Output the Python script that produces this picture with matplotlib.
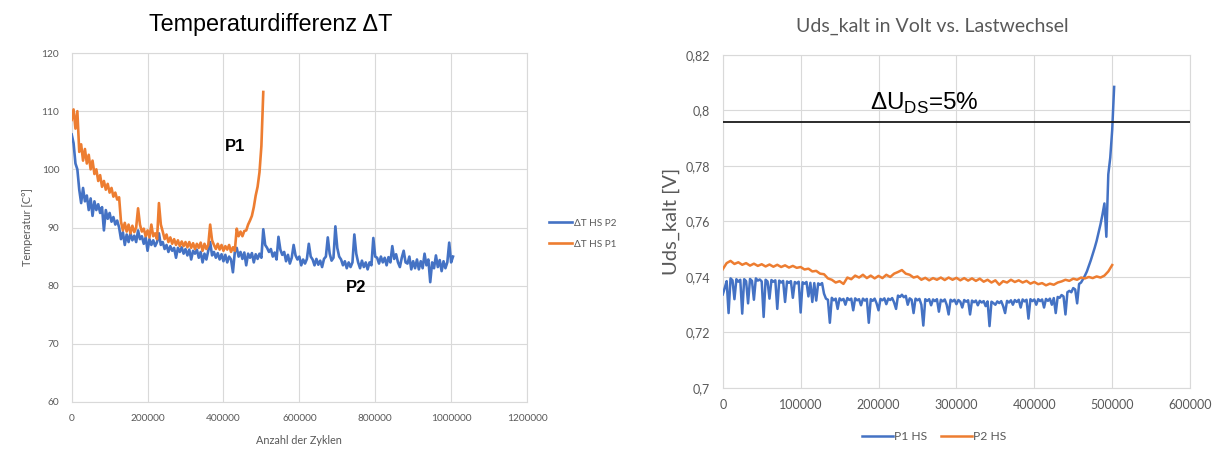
import numpy as np
import matplotlib
matplotlib.use("Agg")
import matplotlib.pyplot as plt
from matplotlib import ticker

plt.rcParams['mathtext.fontset'] = 'custom'
plt.rcParams['mathtext.rm'] = 'Liberation Sans'

# ---------------- data: left chart (Temperaturdifferenz) ----------------
left_step = 5000  # cycles between samples
dT_P2 = [
    106.0, 104.5, 101.0, 100.0, 96.5, 94.2, 96.8, 94.5, 95.5, 93.0,
    95.0, 92.0, 94.5, 93.0, 94.0, 92.5, 93.5, 89.5, 93.0, 91.5,
    92.5, 91.0, 91.8, 90.5, 91.2, 90.0, 88.0, 89.2, 87.0, 88.8,
    87.5, 89.0, 87.8, 88.6, 87.5, 89.5, 88.0, 88.5, 87.2, 88.3,
    86.0, 88.0, 87.0, 87.8, 86.8, 87.5, 89.0, 87.0, 87.5, 86.3,
    87.0, 85.8, 86.8, 86.0, 86.5, 84.8, 86.5, 85.8, 86.6, 85.5,
    86.3, 85.2, 86.2, 84.5, 86.0, 85.5, 86.2, 84.8, 85.8, 84.0,
    85.5, 84.5, 86.0, 87.5, 85.2, 85.8, 84.8, 85.6, 84.5, 85.4,
    84.2, 85.3, 84.0, 85.0, 84.5, 82.3, 85.8, 86.5, 85.0, 85.8,
    84.6, 85.7, 83.5, 85.5, 84.8, 85.6, 84.0, 85.4, 84.6, 85.5,
    84.8, 89.7, 87.0, 86.5, 85.8, 86.3, 85.0, 85.7, 84.5, 88.4,
    86.2, 85.3, 85.8, 84.2, 85.3, 83.8, 84.8, 87.0, 85.2, 84.5,
    85.0, 83.5, 84.5, 83.8, 84.6, 87.2, 85.0, 84.5, 83.5, 84.6,
    83.6, 84.3, 83.2, 84.6, 85.0, 88.3, 85.5, 84.3, 84.8, 90.2,
    86.5, 85.0, 84.5, 83.5, 84.2, 83.0, 84.0, 83.2, 84.0, 88.8,
    85.5, 84.0, 83.0, 84.3, 83.2, 84.0, 82.8, 84.0, 83.5, 88.2,
    85.0, 84.8, 83.8, 85.0, 84.0, 84.8, 83.5, 84.9, 84.0, 86.8,
    84.6, 85.4, 84.0, 83.2, 84.8, 86.0, 84.0, 83.8, 85.0, 82.8,
    84.2, 83.0, 84.5, 82.8, 84.2, 83.0, 85.5, 83.5, 84.5, 80.6,
    84.0, 83.0, 85.2, 83.2, 84.4, 82.5, 84.2, 83.0, 84.0, 87.4,
    84.0, 85.0,
]
dT_P1 = [
    108.5, 110.3, 107.0, 110.0, 103.0, 104.3, 101.5, 103.5, 101.0, 102.5,
    100.0, 101.5, 99.2, 100.0, 98.0, 99.0, 97.0, 98.0, 96.5, 97.5,
    96.0, 96.8, 95.3, 96.0, 94.8, 95.2, 91.0, 89.5, 90.8, 89.3,
    90.5, 89.0, 90.3, 89.2, 90.0, 93.3, 90.5, 89.3, 89.8, 88.5,
    89.5, 88.3, 90.5, 88.5, 89.0, 88.0, 94.2, 90.5, 89.3, 88.0,
    88.8, 87.5, 88.3, 87.2, 88.0, 87.0, 87.8, 86.8, 87.6, 86.8,
    87.5, 86.6, 87.5, 86.5, 87.3, 86.3, 87.2, 86.5, 87.4, 86.0,
    87.2, 86.3, 87.0, 90.5, 87.8, 87.0, 86.3, 87.2, 86.2, 87.0,
    86.0, 86.8, 86.2, 87.0, 85.8, 86.6, 86.0, 89.8, 88.5, 89.3,
    88.5, 89.4, 89.5, 90.5, 91.2, 92.0, 93.5, 95.5, 97.0, 99.5,
    104.0, 113.3,
]
left_xticks = [0, 200000, 400000, 600000, 800000, 1000000, 1200000]
left_yticks = [60, 70, 80, 90, 100, 110, 120]

# ---------------- data: right chart (Uds_kalt) ----------------
right_step_p1 = 2500
uds_P1 = [
    0.7337, 0.7360, 0.7385, 0.7270, 0.7395, 0.7388, 0.7320, 0.7392, 0.7383, 0.7390,
    0.7268, 0.7392, 0.7385, 0.7305, 0.7393, 0.7386, 0.7318, 0.7395, 0.7387, 0.7391,
    0.7384, 0.7256, 0.7390, 0.7384, 0.7322, 0.7389, 0.7383, 0.7388, 0.7285, 0.7387,
    0.7380, 0.7386, 0.7310, 0.7384, 0.7379, 0.7385, 0.7325, 0.7382, 0.7377, 0.7383,
    0.7272, 0.7381, 0.7376, 0.7382, 0.7330, 0.7379, 0.7310, 0.7378, 0.7315, 0.7377,
    0.7372, 0.7378, 0.7340, 0.7322, 0.7318, 0.7235, 0.7325, 0.7316, 0.7322, 0.7285,
    0.7323, 0.7316, 0.7321, 0.7300, 0.7324, 0.7317, 0.7322, 0.7280, 0.7323, 0.7316,
    0.7320, 0.7298, 0.7322, 0.7315, 0.7321, 0.7235, 0.7320, 0.7314, 0.7322, 0.7305,
    0.7280, 0.7321, 0.7316, 0.7323, 0.7302, 0.7322, 0.7317, 0.7324, 0.7308, 0.7285,
    0.7333, 0.7328, 0.7336, 0.7327, 0.7332, 0.7300, 0.7323, 0.7318, 0.7270, 0.7322,
    0.7316, 0.7321, 0.7300, 0.7225, 0.7320, 0.7314, 0.7320, 0.7298, 0.7319, 0.7313,
    0.7320, 0.7275, 0.7318, 0.7312, 0.7319, 0.7300, 0.7265, 0.7318, 0.7312, 0.7318,
    0.7302, 0.7317, 0.7311, 0.7290, 0.7317, 0.7311, 0.7316, 0.7265, 0.7315, 0.7309,
    0.7315, 0.7298, 0.7314, 0.7308, 0.7313, 0.7295, 0.7312, 0.7223, 0.7311, 0.7306,
    0.7300, 0.7312, 0.7306, 0.7313, 0.7295, 0.7270, 0.7314, 0.7308, 0.7316, 0.7300,
    0.7317, 0.7310, 0.7318, 0.7290, 0.7319, 0.7312, 0.7318, 0.7250, 0.7320, 0.7313,
    0.7319, 0.7300, 0.7320, 0.7313, 0.7319, 0.7290, 0.7321, 0.7314, 0.7322, 0.7300,
    0.7324, 0.7270, 0.7328, 0.7325, 0.7335, 0.7330, 0.7265, 0.7345, 0.7350, 0.7345,
    0.7360, 0.7355, 0.7305, 0.7375, 0.7380, 0.7392, 0.7405, 0.7420, 0.7440, 0.7460,
    0.7482, 0.7505, 0.7530, 0.7560, 0.7590, 0.7625, 0.7665, 0.7545, 0.7770, 0.7830,
    0.7930, 0.8085,
]
right_step_p2 = 5000
uds_P2 = [
    0.7428, 0.7450, 0.7458, 0.7447, 0.7453, 0.7444, 0.7450, 0.7441, 0.7448, 0.7440,
    0.7446, 0.7438, 0.7445, 0.7437, 0.7444, 0.7436, 0.7442, 0.7434, 0.7440, 0.7433,
    0.7436, 0.7427, 0.7430, 0.7420, 0.7422, 0.7412, 0.7410, 0.7395, 0.7390, 0.7380,
    0.7385, 0.7375, 0.7398, 0.7392, 0.7405, 0.7398, 0.7408, 0.7396, 0.7405, 0.7395,
    0.7404, 0.7396, 0.7408, 0.7400, 0.7412, 0.7418, 0.7425, 0.7412, 0.7408, 0.7398,
    0.7402, 0.7390, 0.7397, 0.7388, 0.7396, 0.7390, 0.7398, 0.7389, 0.7398, 0.7390,
    0.7397, 0.7388, 0.7396, 0.7387, 0.7395, 0.7386, 0.7394, 0.7383, 0.7390, 0.7380,
    0.7388, 0.7372, 0.7385, 0.7380, 0.7390, 0.7382, 0.7388, 0.7380, 0.7386, 0.7376,
    0.7382, 0.7374, 0.7378, 0.7370, 0.7376, 0.7372, 0.7380, 0.7384, 0.7390, 0.7386,
    0.7394, 0.7390, 0.7398, 0.7395, 0.7400, 0.7396, 0.7402, 0.7398, 0.7405, 0.7420,
    0.7443,
]
threshold_uds = 0.796
right_xticks = [0, 100000, 200000, 300000, 400000, 500000, 600000]
right_yticks = [0.70, 0.72, 0.74, 0.76, 0.78, 0.80, 0.82]
right_yticklabels = ['0,7', '0,72', '0,74', '0,76', '0,78', '0,8', '0,82']

BLUE = '#4472C4'
ORANGE = '#ED7D31'
GRID = '#D9D9D9'
TXT = '#595959'
XL_FONT = ['Lato', 'DejaVu Sans']
AR_FONT = ['Liberation Sans', 'DejaVu Sans']

fig = plt.figure(figsize=(12.25, 4.59), dpi=100)

# ---------------- left chart ----------------
axL = fig.add_axes([0.0585, 0.1242, 0.3717, 0.7603])
xL2 = np.arange(len(dT_P2)) * left_step
xL1 = np.arange(len(dT_P1)) * left_step
axL.plot(xL2, dT_P2, color=BLUE, lw=1.9, label='ΔT HS P2', zorder=3)
axL.plot(xL1, dT_P1, color=ORANGE, lw=1.9, label='ΔT HS P1', zorder=4)
axL.set_xlim(0, 1200000)
axL.set_ylim(60, 120)
axL.set_xticks(left_xticks)
axL.set_yticks(left_yticks)
axL.xaxis.set_major_formatter(ticker.FuncFormatter(lambda v, p: f'{int(round(v))}'))
axL.grid(True, color=GRID, lw=0.8)
axL.set_axisbelow(True)
for s in axL.spines.values():
    s.set_color(GRID)
    s.set_linewidth(0.8)
axL.tick_params(length=0, labelsize=7.3, labelcolor=TXT)
axL.tick_params(axis='x', pad=9)
axL.tick_params(axis='y', pad=9)
for lab in axL.get_xticklabels() + axL.get_yticklabels():
    lab.set_family(XL_FONT)
axL.set_xlabel('Anzahl der Zyklen', fontsize=7.8, color=TXT, family=XL_FONT, labelpad=8)
axL.set_ylabel('Temperatur [C°]', fontsize=7.8, color=TXT, family=XL_FONT, labelpad=6)
axL.text(430000, 104, 'P1', fontsize=12, fontweight='bold', family=AR_FONT,
         ha='center', va='center', zorder=5)
axL.text(749000, 79.6, 'P2', fontsize=12, fontweight='bold', family=AR_FONT,
         ha='center', va='center', zorder=5)
fig.text(271 / 1225, 1 - 25 / 459, 'Temperaturdifferenz ΔT', fontsize=16.8,
         family=AR_FONT, ha='center', va='center')
legL = axL.legend(loc='center left', bbox_to_anchor=(549 / 1225, 1 - 234 / 459),
                  bbox_transform=fig.transFigure, frameon=False, borderpad=0,
                  borderaxespad=0, handlelength=2.3, handletextpad=0.15,
                  labelspacing=1.2, prop={'family': XL_FONT, 'size': 7.2})
for t in legL.get_texts():
    t.set_color(TXT)

# ---------------- right chart ----------------
axR = fig.add_axes([0.5900, 0.1547, 0.3815, 0.7255])
xR1 = np.arange(len(uds_P1)) * right_step_p1
xR2 = np.arange(len(uds_P2)) * right_step_p2
axR.plot(xR1, uds_P1, color=BLUE, lw=1.8, label='P1 HS', zorder=3)
axR.plot(xR2, uds_P2, color=ORANGE, lw=1.8, label='P2 HS', zorder=3)
axR.axhline(threshold_uds, color='#1a1a1a', lw=1.3, zorder=4)
axR.set_xlim(0, 600000)
axR.set_ylim(0.70, 0.82)
axR.set_xticks(right_xticks)
axR.set_yticks(right_yticks)
axR.set_yticklabels(right_yticklabels)
axR.xaxis.set_major_formatter(ticker.FuncFormatter(lambda v, p: f'{int(round(v))}'))
axR.grid(True, color=GRID, lw=0.8)
axR.set_axisbelow(True)
for s in axR.spines.values():
    s.set_color(GRID)
    s.set_linewidth(0.8)
axR.tick_params(length=0, labelsize=9, labelcolor=TXT)
axR.tick_params(axis='x', pad=8)
axR.tick_params(axis='y', pad=9)
for lab in axR.get_xticklabels() + axR.get_yticklabels():
    lab.set_family(XL_FONT)
axR.set_ylabel('Uds_kalt [V]', fontsize=14.5, color=TXT, family=XL_FONT, labelpad=4)
axR.text(189000, 0.8002, r'ΔU$_{\mathregular{DS}}$=5%', fontsize=17.5, family=AR_FONT,
         ha='left', va='baseline', zorder=5)
fig.text(932 / 1225, 1 - 26 / 459, 'Uds_kalt in Volt vs. Lastwechsel', fontsize=14,
         color=TXT, family=XL_FONT, ha='center', va='center')
legR = axR.legend(loc='center', bbox_to_anchor=(934 / 1225, 1 - 437 / 459),
                  bbox_transform=fig.transFigure, ncol=2, frameon=False, borderpad=0,
                  borderaxespad=0, handlelength=2.6, handletextpad=0.1,
                  columnspacing=1.1, prop={'family': XL_FONT, 'size': 8.7})
for t in legR.get_texts():
    t.set_color(TXT)

fig.savefig('out.png', dpi=100)
